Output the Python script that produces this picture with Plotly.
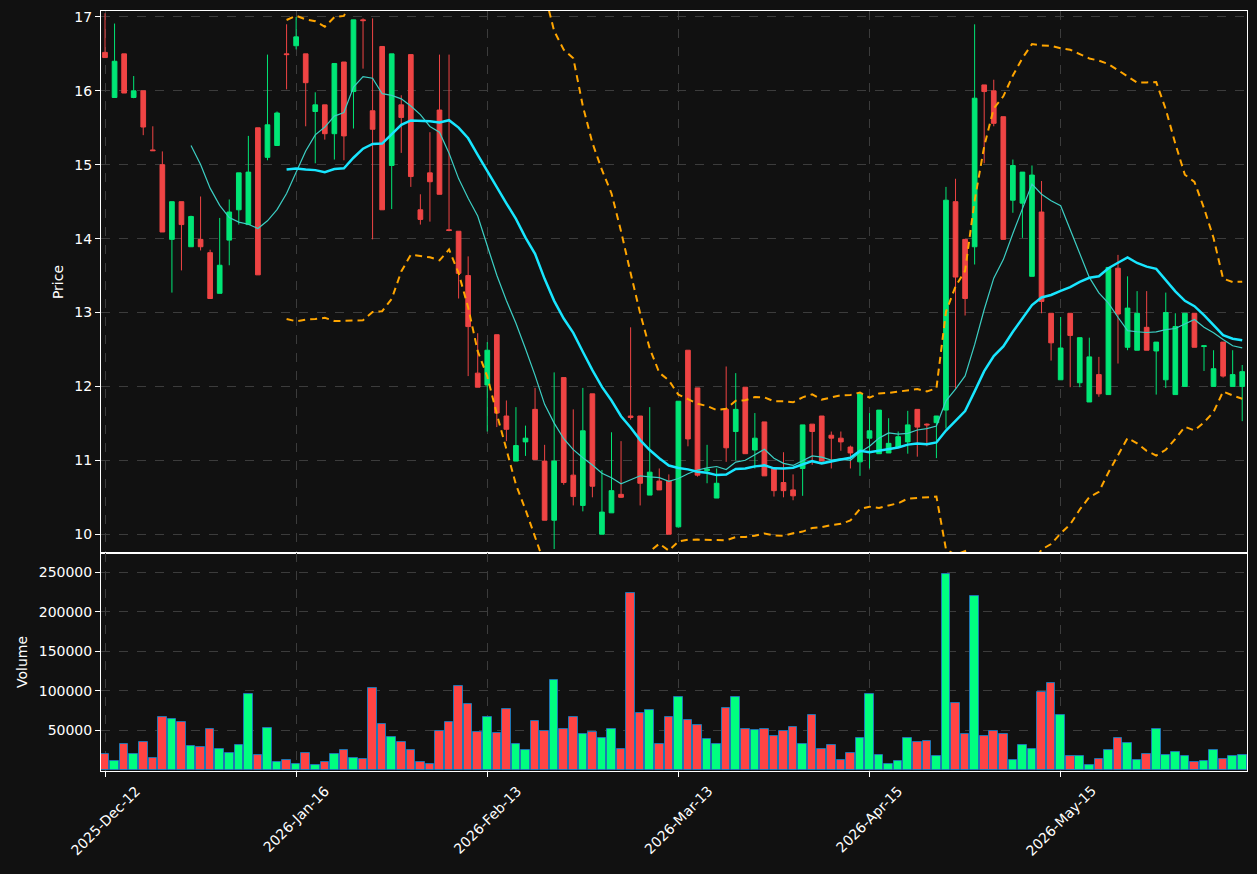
import plotly.graph_objects as go
from plotly.subplots import make_subplots
import pandas as pd

opens = [16.52, 15.91, 16.50, 15.91, 16.00, 15.20, 15.00, 13.99, 14.50, 13.89,
         13.99, 13.81, 13.26, 13.98, 14.39, 14.19, 15.50, 15.10, 15.26, 16.50,
         16.61, 16.50, 15.72, 15.81, 15.42, 16.39, 15.99, 16.96, 15.73, 16.60,
         14.99, 15.81, 16.49, 14.39, 14.89, 15.74, 14.12, 14.10, 13.50, 12.18,
         12.02, 12.70, 11.60, 10.99, 11.25, 11.69, 10.99, 10.19, 12.12, 10.80,
         10.39, 11.90, 10.00, 10.29, 10.54, 11.60, 11.60, 10.53, 10.72, 10.72,
         10.10, 12.49, 11.98, 10.86, 10.49, 11.69, 11.39, 11.99, 11.14, 11.52,
         10.89, 10.70, 10.60, 10.89, 11.49, 11.60, 11.34, 11.30, 11.18, 10.98,
         11.30, 11.09, 11.10, 11.18, 11.25, 11.69, 11.49, 11.51, 11.68, 14.50,
         13.99, 13.89, 16.08, 16.00, 15.65, 14.52, 14.48, 13.49, 14.36, 12.99,
         12.09, 12.99, 12.05, 11.79, 12.16, 11.89, 13.60, 12.53, 12.49, 12.80,
         12.48, 12.09, 11.89, 12.00, 12.99, 12.54, 12.00, 12.60, 12.00, 12.00]
highs = [17.05, 16.91, 16.50, 16.20, 16.00, 15.52, 15.18, 14.50, 14.50, 14.31,
         14.57, 13.85, 14.28, 14.53, 14.89, 15.39, 15.50, 16.49, 15.72, 16.90,
         17.00, 16.50, 15.98, 15.81, 16.37, 16.39, 16.96, 16.98, 16.98, 16.60,
         16.50, 15.94, 16.49, 14.60, 15.44, 16.49, 16.49, 14.10, 13.76, 12.72,
         12.60, 12.70, 11.81, 11.72, 11.47, 11.98, 11.21, 12.19, 12.12, 11.69,
         11.98, 11.90, 10.87, 11.38, 11.26, 12.80, 11.60, 11.72, 10.89, 10.81,
         11.80, 12.49, 11.98, 11.21, 10.89, 12.27, 12.18, 11.99, 11.64, 11.52,
         10.89, 11.11, 10.81, 11.48, 11.49, 11.60, 11.39, 11.39, 11.20, 11.90,
         11.64, 11.68, 11.57, 11.39, 11.67, 11.69, 11.50, 11.60, 14.70, 14.81,
         13.99, 16.90, 16.08, 16.15, 15.65, 15.07, 14.90, 14.99, 14.78, 12.99,
         12.94, 12.99, 12.66, 12.66, 12.40, 13.61, 13.78, 13.49, 13.29, 13.29,
         12.60, 13.27, 12.99, 12.99, 12.99, 12.55, 12.49, 12.60, 12.49, 12.29]
lows = [16.45, 15.91, 15.97, 15.90, 15.40, 15.19, 14.09, 13.27, 13.57, 13.89,
        13.84, 13.19, 13.26, 13.64, 14.19, 14.19, 13.51, 15.06, 15.26, 16.02,
        16.56, 15.52, 15.02, 15.34, 15.07, 15.06, 15.49, 16.30, 13.99, 14.39,
        14.40, 15.16, 14.70, 14.19, 14.23, 14.60, 14.10, 13.19, 12.14, 11.99,
        11.39, 11.45, 11.26, 10.99, 11.06, 11.01, 10.19, 9.80, 10.67, 10.39,
        10.31, 10.50, 10.00, 10.29, 10.49, 11.55, 10.39, 10.53, 10.60, 10.00,
        10.09, 11.19, 10.78, 10.69, 10.49, 10.98, 11.00, 11.09, 10.89, 10.79,
        10.51, 10.50, 10.46, 10.52, 10.94, 10.99, 10.89, 11.13, 10.89, 10.79,
        10.89, 11.09, 11.10, 11.18, 11.09, 11.05, 11.19, 11.03, 11.43, 11.97,
        12.96, 13.65, 15.02, 15.52, 13.99, 14.35, 14.01, 13.49, 12.99, 12.35,
        12.09, 11.99, 11.99, 11.79, 11.86, 11.89, 12.31, 12.49, 12.49, 12.49,
        11.89, 11.98, 11.89, 12.00, 12.53, 12.21, 12.00, 12.12, 12.00, 11.53]
closes = [16.45, 16.40, 15.97, 16.00, 15.51, 15.19, 14.09, 14.50, 14.19, 14.30,
          13.89, 13.19, 13.64, 14.36, 14.89, 14.90, 13.51, 15.54, 15.70, 16.49,
          16.73, 16.11, 15.81, 15.42, 16.37, 15.39, 16.96, 16.95, 15.48, 14.39,
          16.50, 15.64, 14.84, 14.26, 14.77, 14.60, 14.11, 13.53, 12.81, 11.99,
          12.49, 11.64, 11.42, 11.20, 11.30, 11.01, 10.19, 10.99, 10.70, 10.51,
          11.40, 10.65, 10.30, 10.59, 10.50, 11.58, 10.69, 10.84, 10.60, 10.00,
          11.80, 11.29, 10.80, 10.88, 10.69, 11.17, 11.69, 11.09, 11.30, 10.79,
          10.59, 10.59, 10.52, 11.48, 11.39, 10.99, 11.30, 11.25, 11.10, 11.90,
          11.40, 11.68, 11.23, 11.32, 11.48, 11.45, 11.48, 11.60, 14.52, 13.48,
          13.19, 15.90, 15.99, 15.56, 13.99, 14.99, 14.90, 14.86, 13.15, 12.59,
          12.52, 12.69, 12.66, 12.40, 11.90, 13.61, 12.98, 13.06, 12.99, 12.49,
          12.60, 13.00, 12.81, 12.99, 12.53, 12.55, 12.24, 12.14, 12.16, 12.20]
volumes = [19600, 10800, 33300, 19600, 35800, 15000, 67000, 64500, 60800, 30800,
           29600, 52000, 27000, 20800, 32000, 95800, 18300, 53300, 9600, 12000,
           7000, 20800, 5800, 9600, 19600, 25800, 14600, 13300, 103000, 58300,
           42000, 35800, 25800, 9600, 7000, 49600, 60800, 105800, 83300, 48300,
           67000, 47100, 77100, 33300, 24600, 62100, 49600, 113300, 52000, 67000,
           45800, 48300, 40800, 52000, 27000, 223300, 72000, 75800, 33300, 67000,
           92000, 63300, 57100, 39600, 33300, 78300, 92000, 52000, 50800, 52000,
           43300, 49600, 54600, 33300, 69600, 27000, 32000, 12000, 20800, 40800,
           95800, 18300, 7000, 10800, 40800, 35800, 37100, 17100, 248300, 84600,
           45800, 219600, 43300, 49600, 45800, 12000, 32000, 27000, 98300, 109600,
           69600, 17100, 17100, 5800, 13300, 24600, 40800, 34600, 12000, 19600,
           52000, 18300, 23300, 17100, 9600, 10800, 24600, 13300, 17100, 18300]

tick_positions = [0, 20, 40, 60, 80, 100]
tick_labels = ["2025-Dec-12", "2026-Jan-16", "2026-Feb-13",
               "2026-Mar-13", "2026-Apr-15", "2026-May-15"]
price_ticks = [10, 11, 12, 13, 14, 15, 16, 17]
volume_ticks = [50000, 100000, 150000, 200000, 250000]

x = list(range(len(closes)))
s = pd.Series(closes)
ma10 = s.rolling(10).mean()
ma20 = s.rolling(20).mean()
sd20 = s.rolling(20).std(ddof=0)
bb_up = ma20 + 2 * sd20
bb_lo = ma20 - 2 * sd20

UP_C = "#00e676"
DN_C = "#ef4444"
UP_V = "#00ff80"
DN_V = "#ff4444"
vol_colors = [UP_V if c >= o else DN_V for o, c in zip(opens, closes)]

fig = make_subplots(rows=2, cols=1, shared_xaxes=True, vertical_spacing=0,
                    row_heights=[0.7132, 0.2868])

fig.add_trace(go.Candlestick(
    x=x, open=opens, high=highs, low=lows, close=closes,
    increasing=dict(line=dict(color=UP_C, width=1), fillcolor=UP_C),
    decreasing=dict(line=dict(color=DN_C, width=1), fillcolor=DN_C),
    whiskerwidth=0, showlegend=False), row=1, col=1)

fig.add_trace(go.Scatter(x=x, y=bb_up, mode="lines",
                         line=dict(color="#ffa500", width=2, dash="7px,5px"),
                         showlegend=False), row=1, col=1)
fig.add_trace(go.Scatter(x=x, y=bb_lo, mode="lines",
                         line=dict(color="#ffa500", width=2, dash="7px,5px"),
                         showlegend=False), row=1, col=1)
fig.add_trace(go.Scatter(x=x, y=ma10, mode="lines",
                         line=dict(color="#3ccfc4", width=1.2),
                         showlegend=False), row=1, col=1)
fig.add_trace(go.Scatter(x=x, y=ma20, mode="lines",
                         line=dict(color="#18e6ff", width=2.5),
                         showlegend=False), row=1, col=1)

fig.add_trace(go.Bar(x=x, y=volumes, marker=dict(color=vol_colors,
                     line=dict(color="#1f77b4", width=1)),
                     width=0.9, showlegend=False), row=2, col=1)

BG = "#111111"
GRID = "#3c3c3c"
font = dict(family="DejaVu Sans", size=14, color="white")

fig.update_layout(
    width=1257, height=874,
    paper_bgcolor=BG, plot_bgcolor=BG,
    margin=dict(l=101, r=10, t=11, b=103),
    font=font, bargap=0, hovermode=False,
)

common_x = dict(range=[-0.42, 119.5], tickmode="array", tickvals=tick_positions,
                showgrid=True, gridcolor=GRID, griddash="dash", gridwidth=1,
                showline=True, linecolor="white", linewidth=1, mirror=True,
                zeroline=False)
fig.update_xaxes(**common_x, rangeslider_visible=False, showticklabels=False,
                 ticks="", row=1, col=1)
fig.update_xaxes(**common_x, showticklabels=False,
                 ticks="outside", tickcolor="white", ticklen=5, row=2, col=1)

# rotated date labels centred under their ticks (as in the reference)
for pos, lab in zip(tick_positions, tick_labels):
    fig.add_annotation(x=pos, xref="x2", y=0, yref="paper", text=lab,
                       textangle=-45, showarrow=False, xanchor="center",
                       yanchor="top", yshift=-9,
                       font=dict(family="DejaVu Sans", size=14, color="white"))

common_y = dict(showgrid=True, gridcolor=GRID, griddash="dash", gridwidth=1,
                showline=True, linecolor="white", linewidth=1, mirror=True,
                zeroline=False, ticks="outside", tickcolor="white", ticklen=5,
                tickfont=dict(size=14, color="white"))
fig.update_yaxes(**common_y, range=[9.746, 17.08], tickvals=price_ticks,
                 title=dict(text="Price", standoff=7,
                            font=dict(size=14, color="white")),
                 row=1, col=1)
fig.update_yaxes(**common_y, range=[-1300, 274300], tickvals=volume_ticks,
                 tickformat="d",
                 title=dict(text="Volume", standoff=7,
                            font=dict(size=14, color="white")),
                 row=2, col=1)

fig.write_html("out.html")
